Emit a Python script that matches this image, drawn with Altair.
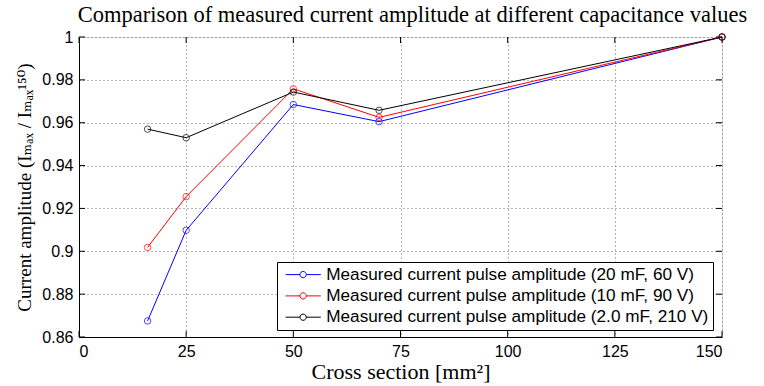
import altair as alt
import pandas as pd

cross_section = [16, 25, 50, 70, 150]
series_names = [
    "Measured current pulse amplitude (20 mF, 60 V)",
    "Measured current pulse amplitude (10 mF, 90 V)",
    "Measured current pulse amplitude (2.0 mF, 210 V)",
]
blue_vals = [0.8675, 0.9098, 0.9685, 0.9605, 1.0]
red_vals = [0.9018, 0.9255, 0.9758, 0.9625, 1.0]
black_vals = [0.9570, 0.9530, 0.9743, 0.9658, 1.0]
colors = ["#0000ff", "#ff0000", "#000000"]
x_ticks = [0, 25, 50, 75, 100, 125, 150]
y_ticks = [0.86, 0.88, 0.90, 0.92, 0.94, 0.96, 0.98, 1.0]

rows = []
for name, vals in zip(series_names, [blue_vals, red_vals, black_vals]):
    for xv, yv in zip(cross_section, vals):
        rows.append({"x": xv, "y": yv, "series": name})
df = pd.DataFrame(rows)

xs = alt.Scale(domain=[0, 150], nice=False)
ys = alt.Scale(domain=[0.86, 1.0], nice=False)

legend_symbol = (
    "M-0.5,0H1.3M2.08,0H3.9"
    "M2.08,0A0.39,0.39 0 1,1 1.3,0A0.39,0.39 0 1,1 2.08,0"
)

color = alt.Color(
    "series:N",
    scale=alt.Scale(domain=series_names, range=colors),
    legend=alt.Legend(
        title=None,
        orient="none",
        legendX=198,
        legendY=225,
        labelFont="Liberation Sans",
        labelFontSize=17.2,
        labelColor="#000000",
        labelOffset=28,
        symbolType=legend_symbol,
        symbolSize=256,
        symbolStrokeWidth=1,
        symbolFillColor="transparent",
        rowPadding=3.3,
        fillColor="white",
        strokeColor="black",
        padding=4,
        cornerRadius=0,
        labelLimit=600,
    ),
)

axis_common = dict(
    titleFontWeight="normal",
    titleColor="#000000",
    labelFont="Liberation Sans",
    labelFontSize=16,
    labelColor="#000000",
    ticks=False,
    domainColor="#000000",
    grid=True,
    gridDash=[1, 3],
    gridColor="#444444",
    gridWidth=0.8,
)

x_enc = alt.X(
    "x:Q",
    scale=xs,
    axis=alt.Axis(
        values=x_ticks,
        title="Cross section [mm²]",
        titleFont="Liberation Serif",
        titleFontSize=22,
        titlePadding=2,
        labelPadding=6,
        **axis_common,
    ),
)
y_enc = alt.Y(
    "y:Q",
    scale=ys,
    axis=alt.Axis(
        values=y_ticks,
        format="~g",
        title="Current amplitude (Iₘₐₓ / Iₘₐₓ¹⁵⁰)",
        titleFont="Liberation Serif, DejaVu Serif",
        titleFontSize=19,
        titlePadding=7,
        labelPadding=6,
        **axis_common,
    ),
)

lines = alt.Chart(df).mark_line(strokeWidth=1).encode(
    x=x_enc, y=y_enc, color=color, order="x:Q"
)
points = alt.Chart(df).mark_point(shape="circle", size=42, filled=False, strokeWidth=1).encode(
    x=alt.X("x:Q", scale=xs),
    y=alt.Y("y:Q", scale=ys),
    color=alt.Color("series:N", scale=alt.Scale(domain=series_names, range=colors), legend=None),
)

xt = pd.DataFrame({"v": x_ticks})
yt = pd.DataFrame({"v": y_ticks})
tb = alt.Chart(xt).mark_rule(color="black", strokeWidth=1).encode(
    x=alt.X("v:Q", scale=xs), y=alt.value(300), y2=alt.value(294))
tt = alt.Chart(xt).mark_rule(color="black", strokeWidth=1).encode(
    x=alt.X("v:Q", scale=xs), y=alt.value(0), y2=alt.value(6))
tl = alt.Chart(yt).mark_rule(color="black", strokeWidth=1).encode(
    y=alt.Y("v:Q", scale=ys), x=alt.value(0), x2=alt.value(6))
tr = alt.Chart(yt).mark_rule(color="black", strokeWidth=1).encode(
    y=alt.Y("v:Q", scale=ys), x=alt.value(643), x2=alt.value(637))

chart = alt.layer(tb, tt, tl, tr, lines, points).properties(
    width=643,
    height=300,
    title=alt.Title(
        "Comparison of measured current amplitude at different capacitance values",
        font="Liberation Serif",
        fontSize=22.5,
        fontWeight="normal",
        color="#000000",
        offset=3,
        dx=12,
    ),
    autosize=alt.AutoSizeParams(type="none"),
    padding={"left": 79, "top": 37, "right": 42, "bottom": 49},
).configure_view(stroke="black", strokeWidth=1).configure(background="white")

chart.save("out.html", embed_options={"renderer": "svg", "actions": False})
